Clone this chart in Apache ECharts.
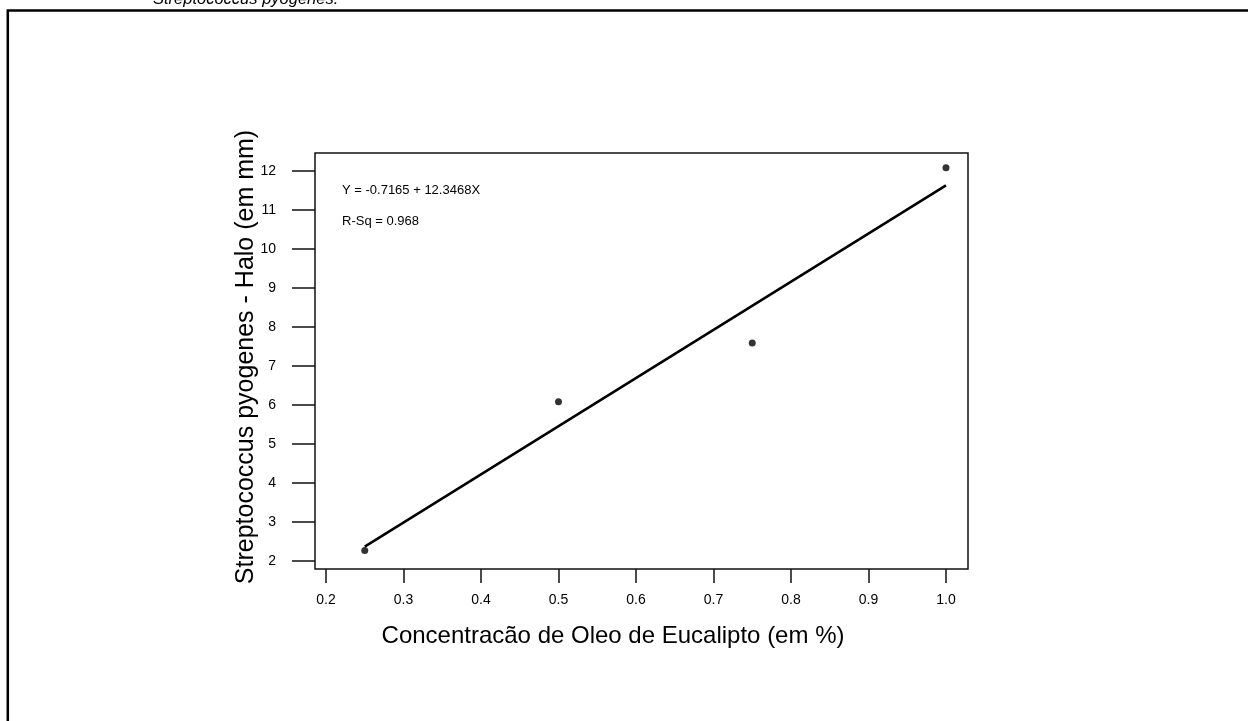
<!DOCTYPE html>
<html>
<head>
  <meta charset="UTF-8">
  <title>Streptococcus pyogenes - Halo</title>
  <script src="https://cdn.jsdelivr.net/npm/echarts@6/dist/echarts.min.js"></script>
</head>
<body style="margin:0; background:#fff;">
  <div id="main" style="width:1248px; height:721px;"></div>
  <script>
  // concentração (%) e halo (mm)
  const concX = [0.25, 0.5, 0.75, 1.0];
  const haloY = [2.27, 6.08, 7.59, 12.08];
  // reta ajustada
  const fitX = [0.25, 1.0];
  const fitY = [2.37, 11.63];
  const xTicks = [0.2, 0.3, 0.4, 0.5, 0.6, 0.7, 0.8, 0.9, 1.0];
  const yTicks = [2, 3, 4, 5, 6, 7, 8, 9, 10, 11, 12];

  const font = '"Liberation Sans", Arial, sans-serif';
  const chart = echarts.init(document.getElementById('main'));

  chart.setOption({
    animation: false,
    grid: {
      left: 315, top: 153, width: 653, height: 416,
      show: true, borderColor: '#111', borderWidth: 1.5, backgroundColor: 'transparent'
    },
    xAxis: {
      type: 'value', min: 0.1858, max: 1.0284,
      axisLine: { show: false },
      splitLine: { show: false },
      axisTick: { show: true, inside: false, length: 14, customValues: xTicks,
        lineStyle: { color: '#111', width: 1.5 } },
      axisLabel: { customValues: xTicks, margin: 24, color: '#000', fontSize: 14, fontFamily: font,
        formatter: v => v.toFixed(1) }
    },
    yAxis: {
      type: 'value', min: 1.795, max: 12.46,
      axisLine: { show: false },
      splitLine: { show: false },
      axisTick: { show: true, inside: false, length: 23, customValues: yTicks,
        lineStyle: { color: '#111', width: 1.5 } },
      axisLabel: { customValues: yTicks, margin: 39, color: '#000', fontSize: 14, fontFamily: font }
    },
    series: [
      {
        type: 'line',
        data: fitX.map((x, i) => [x, fitY[i]]),
        showSymbol: false,
        lineStyle: { color: '#000', width: 2.5 }
      },
      {
        type: 'scatter',
        data: concX.map((x, i) => [x, haloY[i]]),
        symbolSize: 7,
        itemStyle: { color: '#000' }
      }
    ],
    graphic: [
      { type: 'rect', shape: { x: 7.8, y: 10.5, width: 1300, height: 800 },
        style: { fill: 'none', stroke: '#000', lineWidth: 2.5 } },
      { type: 'text', x: 153, y: 8,
        style: { text: 'Streptococcus pyogenes.', font: 'italic 16.5px ' + font, fill: '#000',
          verticalAlign: 'bottom' } },
      { type: 'text', x: 342, y: 190,
        style: { text: 'Y = -0.7165 + 12.3468X', font: '13px ' + font, fill: '#000', verticalAlign: 'middle' } },
      { type: 'text', x: 342, y: 221,
        style: { text: 'R-Sq = 0.968', font: '13px ' + font, fill: '#000', verticalAlign: 'middle' } },
      { type: 'text', x: 613, y: 636,
        style: { text: 'Concentracão de Oleo de Eucalipto (em %)', font: '24px ' + font, fill: '#000',
          align: 'center', verticalAlign: 'middle' } },
      { type: 'text', x: 246, y: 357, rotation: Math.PI / 2,
        style: { text: 'Streptococcus pyogenes - Halo (em mm)', font: '25px ' + font, fill: '#000',
          align: 'center', verticalAlign: 'middle' } }
    ]
  });
  </script>
</body>
</html>
